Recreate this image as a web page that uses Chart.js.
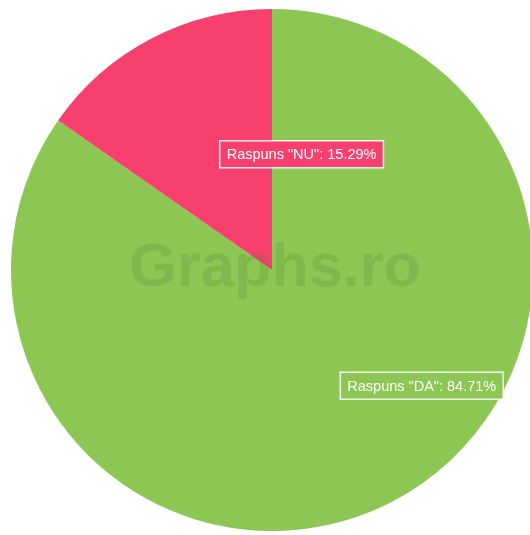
<!DOCTYPE html>
<html>
<head>
<meta charset="utf-8">
<script src="https://cdn.jsdelivr.net/npm/chart.js@4/dist/chart.umd.min.js"></script>
<style>
html,body{margin:0;padding:0;background:#fff;overflow:hidden;}
#wrap{position:relative;width:530px;height:535px;}
</style>
</head>
<body>
<div id="wrap"><canvas id="c" width="530" height="535"></canvas></div>
<script>
const categories = ['Raspuns "DA"', 'Raspuns "NU"'];
const values = [84.71, 15.29];
const valueLabels = ['84.71%', '15.29%'];
const colors = ['rgb(140,199,84)', 'rgb(247,64,110)'];
const watermark = 'Graphs.ro';

const labelPlugin = {
  id: 'sliceLabels',
  afterDatasetsDraw(chart) {
    const ctx = chart.ctx;
    const meta = chart.getDatasetMeta(0);
    const a0 = meta.data[0];
    ctx.save();
    ctx.font = 'bold 61px "Liberation Sans", Arial, sans-serif';
    ctx.fillStyle = 'rgba(70,120,50,0.18)';
    ctx.textAlign = 'center';
    ctx.textBaseline = 'alphabetic';
    ctx.fillText(watermark, a0.x + 3, a0.y + 16);
    ctx.restore();
    meta.data.forEach((arc, i) => {
      const p = arc.getProps(['x','y','startAngle','endAngle','outerRadius'], true);
      const mid = (p.startAngle + p.endAngle) / 2;
      const ax = p.x + Math.cos(mid) * p.outerRadius * 0.5;
      const ay = p.y + Math.sin(mid) * p.outerRadius * 0.5;
      const text = categories[i] + ': ' + valueLabels[i];
      ctx.save();
      ctx.font = '14.5px "Liberation Sans", Arial, sans-serif';
      const w = ctx.measureText(text).width;
      const bx = ax + 8, bw = w + 14, bh = 27, by = ay - bh / 2;
      ctx.fillStyle = colors[i];
      ctx.fillRect(bx, by, bw, bh);
      ctx.strokeStyle = 'rgba(255,255,255,0.9)';
      ctx.lineWidth = 1.5;
      ctx.strokeRect(bx, by, bw, bh);
      ctx.fillStyle = '#ffffff';
      ctx.textBaseline = 'middle';
      ctx.textAlign = 'left';
      ctx.fillText(text, bx + 7, ay + 1);
      ctx.restore();
    });
  }
};

new Chart(document.getElementById('c'), {
  type: 'pie',
  data: {
    labels: categories,
    datasets: [{
      data: values,
      backgroundColor: colors,
      borderWidth: 0
    }]
  },
  options: {
    responsive: false,
    animation: false,
    radius: 261,
    layout: { padding: { left: 14, right: 0, top: 5, bottom: 0 } },
    plugins: { legend: { display: false }, tooltip: { enabled: false } }
  },
  plugins: [labelPlugin]
});
</script>
</body>
</html>
